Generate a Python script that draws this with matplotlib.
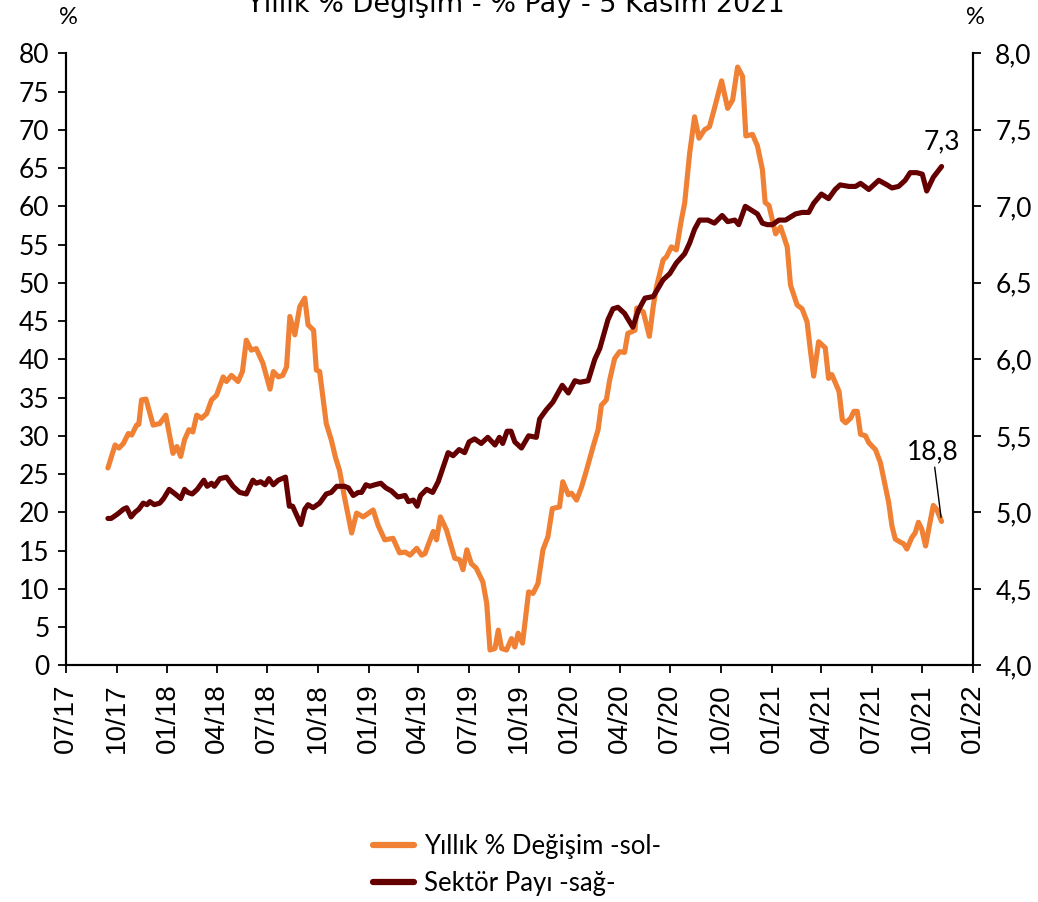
import pandas as pd
import matplotlib
matplotlib.use("Agg")
import matplotlib.pyplot as plt
import matplotlib.dates as mdates
from matplotlib.ticker import FuncFormatter

plt.rcParams['font.family'] = ['Lato', 'DejaVu Sans']

# Yıllık % değişim (sol eksen)
yillik_tarih = [
    "2017-09-15", "2017-09-28", "2017-10-05", "2017-10-13", "2017-10-22", "2017-10-28",
    "2017-11-06", "2017-11-10", "2017-11-15", "2017-11-23", "2017-12-06", "2017-12-18",
    "2017-12-29", "2018-01-11", "2018-01-18", "2018-01-25", "2018-02-01", "2018-02-09",
    "2018-02-16", "2018-02-23", "2018-03-04", "2018-03-13", "2018-03-22", "2018-03-31",
    "2018-04-12", "2018-04-18", "2018-04-27", "2018-05-09", "2018-05-17", "2018-05-24",
    "2018-06-02", "2018-06-11", "2018-06-23", "2018-07-06", "2018-07-12", "2018-07-21",
    "2018-07-29", "2018-08-05", "2018-08-11", "2018-08-20", "2018-08-29", "2018-09-07",
    "2018-09-13", "2018-09-23", "2018-09-28", "2018-10-04", "2018-10-16", "2018-10-25",
    "2018-11-02", "2018-11-09", "2018-11-18", "2018-12-01", "2018-12-10", "2018-12-22",
    "2019-01-09", "2019-01-18", "2019-01-30", "2019-02-14", "2019-02-26", "2019-03-08",
    "2019-03-17", "2019-03-29", "2019-04-07", "2019-04-13", "2019-04-28", "2019-05-04",
    "2019-05-11", "2019-05-22", "2019-06-06", "2019-06-15", "2019-06-21", "2019-06-28",
    "2019-07-06", "2019-07-15", "2019-07-27", "2019-08-03", "2019-08-09", "2019-08-18",
    "2019-08-24", "2019-08-30", "2019-09-08", "2019-09-17", "2019-09-23", "2019-09-29",
    "2019-10-07", "2019-10-18", "2019-10-26", "2019-11-04", "2019-11-13", "2019-11-22",
    "2019-11-30", "2019-12-13", "2019-12-19", "2019-12-29", "2020-01-04", "2020-01-13",
    "2020-01-22", "2020-01-31", "2020-02-12", "2020-02-21", "2020-02-27", "2020-03-07",
    "2020-03-13", "2020-03-22", "2020-03-31", "2020-04-09", "2020-04-15", "2020-04-28",
    "2020-05-01", "2020-05-13", "2020-05-24", "2020-05-31", "2020-06-06", "2020-06-18",
    "2020-06-24", "2020-07-03", "2020-07-12", "2020-07-21", "2020-07-27", "2020-08-05",
    "2020-08-14", "2020-08-22", "2020-09-01", "2020-09-10", "2020-09-19", "2020-10-02",
    "2020-10-13", "2020-10-22", "2020-10-31", "2020-11-09", "2020-11-15", "2020-11-27",
    "2020-12-06", "2020-12-15", "2020-12-20", "2020-12-27", "2021-01-08", "2021-01-17",
    "2021-01-29", "2021-02-04", "2021-02-16", "2021-02-25", "2021-03-06", "2021-03-12",
    "2021-03-18", "2021-03-27", "2021-04-08", "2021-04-14", "2021-04-20", "2021-05-03",
    "2021-05-09", "2021-05-15", "2021-05-24", "2021-05-30", "2021-06-05", "2021-06-11",
    "2021-06-20", "2021-06-26", "2021-07-08", "2021-07-17", "2021-07-26", "2021-08-01",
    "2021-08-07", "2021-08-13", "2021-08-22", "2021-08-28", "2021-09-03", "2021-09-12",
    "2021-09-18", "2021-09-24", "2021-09-30", "2021-10-07", "2021-10-15", "2021-10-21",
    "2021-10-27", "2021-11-05",
]
yillik_deger = [
    25.8, 28.8, 28.4, 29.0, 30.3, 30.1,
    31.4, 31.5, 34.7, 34.8, 31.4, 31.6,
    32.7, 27.7, 28.6, 27.3, 29.5, 30.8,
    30.5, 32.7, 32.3, 32.9, 34.7, 35.3,
    37.7, 37.1, 37.9, 37.1, 38.4, 42.5,
    41.2, 41.4, 39.5, 36.1, 38.4, 37.7,
    37.9, 39.0, 45.6, 43.2, 46.9, 48.0,
    44.5, 43.8, 38.6, 38.4, 31.6, 29.5,
    27.1, 25.5, 22.0, 17.3, 19.9, 19.4,
    20.3, 18.3, 16.4, 16.6, 14.7, 14.8,
    14.4, 15.3, 14.4, 14.6, 17.5, 16.4,
    19.4, 17.7, 14.0, 13.8, 12.5, 15.1,
    13.3, 12.7, 10.9, 8.1, 2.0, 2.2,
    4.6, 2.2, 2.0, 3.5, 2.4, 4.2,
    2.9, 9.6, 9.4, 10.7, 15.1, 16.8,
    20.5, 20.7, 24.0, 22.3, 22.5, 21.6,
    23.3, 25.5, 28.6, 30.8, 34.0, 34.7,
    37.3, 40.1, 41.0, 40.9, 43.4, 43.8,
    46.7, 46.2, 43.0, 46.9, 49.5, 53.0,
    53.4, 54.7, 54.3, 58.2, 60.4, 66.9,
    71.7, 68.9, 70.0, 70.4, 72.8, 76.4,
    72.8, 73.9, 78.2, 77.0, 69.2, 69.4,
    67.9, 64.8, 60.5, 60.1, 56.4, 57.3,
    54.7, 49.7, 47.1, 46.6, 44.9, 41.2,
    37.8, 42.3, 41.5, 37.5, 38.0, 35.8,
    32.1, 31.7, 32.3, 33.2, 33.2, 30.2,
    30.0, 29.1, 28.2, 26.5, 23.4, 21.3,
    18.2, 16.5, 16.1, 15.9, 15.2, 16.7,
    17.3, 18.7, 17.8, 15.6, 18.7, 20.9,
    20.4, 18.8,
]

# Sektör payı (sağ eksen)
pay_tarih = [
    "2017-09-15", "2017-09-21", "2017-10-03", "2017-10-13", "2017-10-19", "2017-10-27",
    "2017-11-03", "2017-11-10", "2017-11-18", "2017-11-25", "2017-11-30", "2017-12-08",
    "2017-12-18", "2017-12-25", "2018-01-04", "2018-01-15", "2018-01-25", "2018-02-01",
    "2018-02-07", "2018-02-15", "2018-02-24", "2018-03-08", "2018-03-14", "2018-03-22",
    "2018-03-27", "2018-04-06", "2018-04-18", "2018-04-30", "2018-05-12", "2018-05-24",
    "2018-06-05", "2018-06-11", "2018-06-19", "2018-06-27", "2018-07-04", "2018-07-12",
    "2018-07-21", "2018-08-03", "2018-08-10", "2018-08-16", "2018-08-31", "2018-09-07",
    "2018-09-13", "2018-09-22", "2018-10-04", "2018-10-16", "2018-10-25", "2018-11-04",
    "2018-11-18", "2018-11-25", "2018-12-04", "2018-12-13", "2018-12-19", "2018-12-27",
    "2019-01-03", "2019-01-12", "2019-01-23", "2019-02-01", "2019-02-11", "2019-02-23",
    "2019-03-08", "2019-03-14", "2019-03-23", "2019-03-30", "2019-04-05", "2019-04-16",
    "2019-04-27", "2019-05-07", "2019-05-25", "2019-06-03", "2019-06-14", "2019-06-24",
    "2019-07-02", "2019-07-12", "2019-07-24", "2019-08-05", "2019-08-18", "2019-08-26",
    "2019-09-01", "2019-09-09", "2019-09-16", "2019-09-23", "2019-10-05", "2019-10-18",
    "2019-11-01", "2019-11-07", "2019-11-19", "2019-12-01", "2019-12-18", "2019-12-29",
    "2020-01-10", "2020-01-19", "2020-02-03", "2020-02-15", "2020-02-24", "2020-03-10",
    "2020-03-19", "2020-03-28", "2020-04-09", "2020-04-24", "2020-05-04", "2020-05-16",
    "2020-05-31", "2020-06-18", "2020-06-30", "2020-07-12", "2020-07-27", "2020-08-05",
    "2020-08-14", "2020-08-23", "2020-09-07", "2020-09-19", "2020-10-03", "2020-10-13",
    "2020-10-26", "2020-11-02", "2020-11-14", "2020-11-27", "2020-12-06", "2020-12-15",
    "2020-12-24", "2021-01-02", "2021-01-14", "2021-01-26", "2021-02-13", "2021-02-25",
    "2021-03-09", "2021-03-18", "2021-04-01", "2021-04-14", "2021-04-26", "2021-05-05",
    "2021-05-21", "2021-06-02", "2021-06-11", "2021-06-26", "2021-07-14", "2021-07-29",
    "2021-08-07", "2021-08-19", "2021-08-31", "2021-09-09", "2021-09-21", "2021-10-01",
    "2021-10-09", "2021-10-21", "2021-11-05",
]
pay_deger = [
    4.96, 4.96, 4.99, 5.02, 5.03, 4.97,
    5.00, 5.02, 5.06, 5.05, 5.07, 5.05,
    5.06, 5.09, 5.15, 5.12, 5.09, 5.15,
    5.13, 5.12, 5.15, 5.21, 5.17, 5.19,
    5.17, 5.22, 5.23, 5.17, 5.13, 5.12,
    5.21, 5.19, 5.20, 5.18, 5.22, 5.18,
    5.21, 5.23, 5.04, 5.04, 4.92, 5.02,
    5.05, 5.03, 5.06, 5.12, 5.13, 5.17,
    5.17, 5.16, 5.11, 5.13, 5.13, 5.18,
    5.17, 5.18, 5.19, 5.16, 5.14, 5.10,
    5.11, 5.07, 5.08, 5.04, 5.11, 5.15,
    5.13, 5.20, 5.39, 5.37, 5.41, 5.39,
    5.46, 5.48, 5.45, 5.49, 5.44, 5.49,
    5.45, 5.53, 5.53, 5.46, 5.42, 5.50,
    5.49, 5.61, 5.67, 5.72, 5.83, 5.78,
    5.86, 5.85, 5.86, 6.00, 6.07, 6.26,
    6.33, 6.34, 6.30, 6.21, 6.32, 6.40,
    6.41, 6.52, 6.56, 6.63, 6.69, 6.76,
    6.85, 6.91, 6.91, 6.89, 6.94, 6.90,
    6.91, 6.88, 7.00, 6.97, 6.95, 6.89,
    6.88, 6.88, 6.91, 6.91, 6.95, 6.96,
    6.96, 7.02, 7.08, 7.05, 7.11, 7.14,
    7.13, 7.13, 7.15, 7.11, 7.17, 7.14,
    7.12, 7.13, 7.17, 7.22, 7.22, 7.21,
    7.10, 7.19, 7.26,
]

yillik_tarih = pd.to_datetime(yillik_tarih)
pay_tarih = pd.to_datetime(pay_tarih)

turuncu = "#EF8034"
bordo = "#650000"

fig = plt.figure(figsize=(10.38, 9.02), dpi=100)
ax = fig.add_axes([0.0636, 0.2624, 0.8738, 0.6785])
ax2 = ax.twinx()

l1, = ax.plot(yillik_tarih, yillik_deger, color=turuncu, lw=3.7,
              solid_joinstyle="round", solid_capstyle="round",
              label="Yıllık % Değişim -sol-")
l2, = ax2.plot(pay_tarih, pay_deger, color=bordo, lw=3.7,
               solid_joinstyle="round", solid_capstyle="round",
               label="Sektör Payı -sağ-")

ax.set_xlim(pd.Timestamp("2017-07-01"), pd.Timestamp("2022-01-01"))
ax.set_ylim(0, 80)
ax.set_yticks(range(0, 81, 5))
ax2.set_ylim(4.0, 8.0)
ax2.set_yticks([4.0, 4.5, 5.0, 5.5, 6.0, 6.5, 7.0, 7.5, 8.0])
ax2.yaxis.set_major_formatter(FuncFormatter(lambda v, p: f"{v:.1f}".replace(".", ",")))

ax.xaxis.set_major_locator(mdates.MonthLocator(bymonth=[1, 4, 7, 10]))
ax.xaxis.set_major_formatter(mdates.DateFormatter("%m/%y"))
for lab in ax.get_xticklabels():
    lab.set_family("Liberation Sans")

for a in (ax, ax2):
    a.spines["top"].set_visible(False)
    for s in a.spines.values():
        s.set_linewidth(1.5)
ax.tick_params(axis="x", direction="out", length=6, width=1.3, labelsize=20,
               labelrotation=90, pad=7)
ax.tick_params(axis="y", direction="out", length=6, width=1.3, labelsize=19, pad=6)
ax2.tick_params(axis="y", direction="out", length=6, width=1.3, labelsize=19, pad=10)

# etiketler
ax2.text(pay_tarih[-1], 7.42, "7,3", ha="center", va="center", fontsize=19)
ax.annotate("18,8", xy=(yillik_tarih[-1], yillik_deger[-1]),
            xytext=(pd.Timestamp("2021-10-20"), 27.9), ha="center", va="center",
            fontsize=19, arrowprops=dict(arrowstyle="-", lw=1, color="black",
                                         shrinkA=0, shrinkB=3))

# başlık (üst kenarda kesik)
fig.text(0.497, 1 - 11.5 / 902, "Yıllık % Değişim - % Pay - 5 Kasım 2021",
         ha="center", va="baseline", fontsize=19.5, family="DejaVu Sans")
fig.text(68 / 1038, 1 - 18 / 902, "%", ha="center", va="center", fontsize=17)
fig.text(975 / 1038, 1 - 18 / 902, "%", ha="center", va="center", fontsize=17)

leg = fig.legend([l1, l2], [l1.get_label(), l2.get_label()], loc="center",
                 bbox_to_anchor=(0.498, 0.041), frameon=False, fontsize=18.5,
                 handlelength=1.6, labelspacing=0.45, handletextpad=0.4)
for h in leg.get_lines():
    h.set_linewidth(4.5)

fig.savefig("out.png", dpi=100)
